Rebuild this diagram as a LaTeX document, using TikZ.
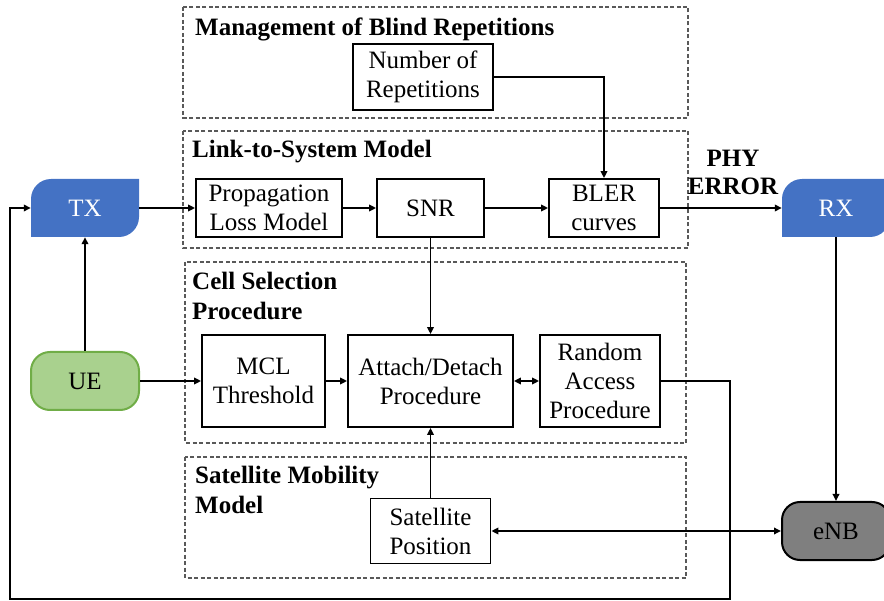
\documentclass[tikz,border=0pt]{standalone}
\usepackage{fontspec}
\setmainfont{Liberation Serif}
\usetikzlibrary{arrows.meta,calc}
\definecolor{txblue}{HTML}{4472C4}
\definecolor{uefill}{HTML}{A9D18E}
\definecolor{ueline}{HTML}{70AD47}
\definecolor{enbfill}{HTML}{7F7F7F}
\definecolor{dashgray}{HTML}{595959}
\tikzset{
  base/.style={font=\fontsize{25}{29}\selectfont, align=center, inner sep=0pt},
  blk/.style={base, draw=black, line width=1.8pt, fill=white},
  ghost/.style={base, minimum width=108pt, minimum height=58pt},
  grp/.style={draw=dashgray, line width=1.3pt, dash pattern=on 4pt off 2.5pt},
  grptitle/.style={font=\fontsize{25}{30}\selectfont\bfseries, align=left, inner sep=0pt, anchor=north west},
  conn/.style={line width=1.7pt, -{Triangle[length=7pt,width=6.5pt]}},
  dconn/.style={line width=1.7pt, {Triangle[length=7pt,width=6.5pt]}-{Triangle[length=7pt,width=6.5pt]}}
}
\begin{document}
\begin{tikzpicture}[x=1pt,y=-1pt]
\useasboundingbox (0,0) rectangle (884,601);
\clip (0,0) rectangle (884,601);

% dashed group boxes
\draw[grp] (183,7) rectangle (688,118);
\draw[grp] (183,131) rectangle (688,248);
\draw[grp] (185,262) rectangle (686,443);
\draw[grp] (185,457) rectangle (686,578);

\node[grptitle] (tmgmt) at (195,18) {Management of Blind Repetitions};
\node[grptitle] (tl2s) at (192,140) {Link-to-System Model};
\node[grptitle] (tcell) at (192,272) {Cell Selection\\Procedure};
\node[grptitle] (tsat) at (195,466) {Satellite Mobility\\Model};

% TX and RX shapes
\fill[txblue] (31,237) -- (31,199) .. controls (31,188) and (40,179) .. (51,179) -- (139,179) -- (139,217) .. controls (139,228) and (130,237) .. (119,237) -- cycle;
\fill[txblue] (782,237) -- (782,199) .. controls (782,188) and (791,179) .. (802,179) -- (890,179) -- (890,217) .. controls (890,228) and (881,237) .. (870,237) -- cycle;
\node[ghost, text=white] (tx) at (85,208) {TX};
\node[ghost, text=white] (rx) at (836,208) {RX};

% UE and eNB
\node[base, draw=ueline, fill=uefill, line width=2pt, rounded corners=19pt, minimum width=108pt, minimum height=58pt] (ue) at (85,381) {UE};
\node[base, draw=black, fill=enbfill, line width=2pt, rounded corners=18pt, minimum width=108pt, minimum height=58pt] (enb) at (836,531) {eNB};

% blocks
\node[blk, minimum width=140pt, minimum height=66pt] (num) at (423,77) {Number of\\Repetitions};
\node[blk, minimum width=146pt, minimum height=58pt] (prop) at (269,208) {Propagation\\Loss Model};
\node[blk, minimum width=107pt, minimum height=58pt] (snr) at (430.5,208) {SNR};
\node[blk, minimum width=110pt, minimum height=58pt] (bler) at (604,208) {BLER\\curves};
\node[blk, minimum width=123pt, minimum height=92pt] (mcl) at (263.5,381) {MCL\\Threshold};
\node[blk, minimum width=165pt, minimum height=92pt] (attach) at (430.5,381) {Attach/Detach\\Procedure};
\node[blk, minimum width=120pt, minimum height=92pt] (ra) at (600,381) {Random\\Access\\Procedure};
\node[blk, minimum width=120pt, minimum height=65pt] (sat) at (430.5,531) {Satellite\\Position};

\node[font=\fontsize{25}{28}\selectfont\bfseries, align=center, inner sep=0pt] (phy) at (733,172) {PHY\\ERROR};

% connectors
\draw[conn] (tx.east) -- (prop.west);
\draw[conn] (prop.east) -- (snr.west);
\draw[conn] (snr.east) -- (bler.west);
\draw[conn] (bler.east) -- (rx.west);
\draw[conn] (num.east) -| (bler.north);
\draw[conn] (snr.south) -- (attach.north);
\draw[conn] (ue.north) -- (tx.south);
\draw[conn] (ue.east) -- (mcl.west);
\draw[conn] (mcl.east) -- (attach.west);
\draw[dconn] (attach.east) -- (ra.west);
\draw[conn] (sat.north) -- (attach.south);
\draw[dconn] (sat.east) -- (enb.west);
\draw[conn] (rx.south) -- (enb.north);

\coordinate (fbr) at (730,599);
\coordinate (fbl) at (10,599);
\draw[conn] (ra.east) -| (fbr) -- (fbl) |- (tx.west);
\end{tikzpicture}
\end{document}
